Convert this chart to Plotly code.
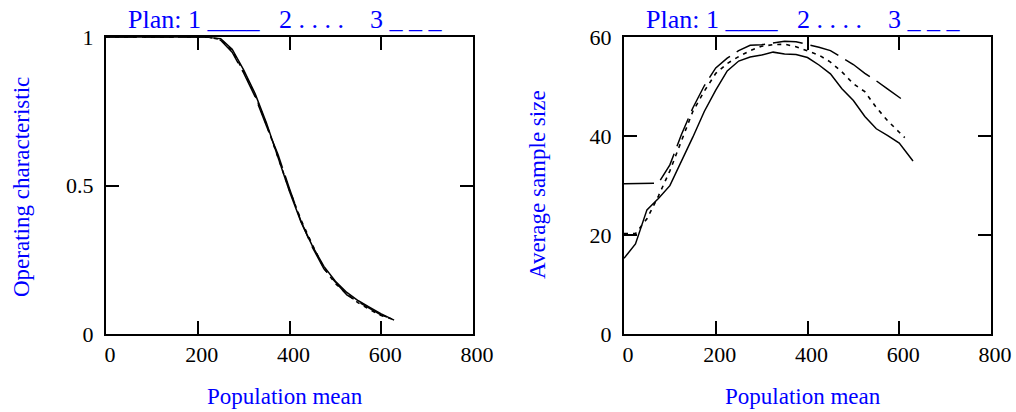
import plotly.graph_objects as go

# ---------------- data ----------------
oc_means = [0, 50, 100, 150, 200, 225, 250, 275, 300, 325, 350, 375, 400, 425, 450,
            475, 500, 525, 550, 575, 600, 628]
oc_plan1 = [1, 1, 1, 1, 1, 1.0, 0.995, 0.96, 0.89, 0.81, 0.71, 0.598, 0.48, 0.378, 0.296,
            0.228, 0.178, 0.14, 0.112, 0.09, 0.068, 0.047]
oc_plan2 = [1, 1, 1, 1, 1, 1.0, 0.993, 0.955, 0.885, 0.805, 0.705, 0.595, 0.485, 0.385, 0.30,
            0.222, 0.17, 0.135, 0.105, 0.082, 0.062, 0.048]
oc_plan3 = [1, 1, 1, 1, 1, 1.0, 0.99, 0.95, 0.88, 0.80, 0.70, 0.605, 0.49, 0.38, 0.292,
            0.22, 0.175, 0.132, 0.108, 0.085, 0.064, 0.049]

asn_means1 = [0, 25, 50, 75, 100, 125, 150, 175, 200, 225, 250, 275, 300, 325, 350, 375,
              400, 425, 450, 475, 500, 525, 550, 575, 600, 630]
asn_plan1 = [15.3, 18.2, 25.1, 27.4, 30.0, 34.8, 39.8, 45.0, 49.3, 53.2, 55.2, 56.0, 56.4,
             57.0, 56.6, 56.5, 55.9, 54.4, 52.6, 49.6, 47.2, 44.0, 41.5, 40.1, 38.6, 35.0]

asn_means2 = [0, 25, 50, 75, 100, 125, 150, 175, 200, 225, 250, 275, 300, 325, 350, 375,
              400, 425, 450, 475, 500, 525, 550, 575, 600, 612]
asn_plan2 = [20.3, 20.3, 23.3, 27.9, 33.0, 38.9, 45.0, 49.1, 52.7, 54.7, 56.1, 57.3, 58.2,
             58.5, 58.6, 58.1, 57.2, 56.4, 55.0, 53.0, 50.6, 49.0, 45.8, 43.1, 40.8, 39.7]

asn_means3 = [0, 25, 50, 75, 100, 125, 150, 175, 200, 225, 250, 275, 300, 325, 350, 375,
              400, 425, 450, 475, 500, 525, 550, 575, 600, 610]
asn_plan3 = [30.4, 30.4, 30.4, 30.5, 34.2, 40.3, 45.7, 50.2, 53.8, 55.8, 57.3, 58.4, 58.5,
             58.9, 59.2, 59.1, 58.6, 58.0, 57.3, 55.9, 54.5, 52.7, 51.2, 49.5, 47.8, 47.2]

x_ticks = [0, 200, 400, 600, 800]
oc_ticks = [0, 0.5, 1]
oc_ticktext = ["0", "0.5", "1"]
asn_ticks = [0, 20, 40, 60]

NB = "\u00a0"
legend_text = ("Plan: 1" + NB + "____" + NB * 3 + "2" + (NB + ".") * 4 + NB * 4
               + "3" + (NB + "_") * 3)
oc_title = "Operating characteristic"
asn_title = "Average sample size"
x_title = "Population mean"

# ---------------- figure ----------------
W, H = 1016, 412
FONT = "Liberation Serif, Times New Roman, serif"
BLUE = "#0000ff"

def px_x(p):
    return p / W

def px_y(p):
    return 1 - p / H

styles = [dict(color="black", width=1.5),
          dict(color="black", width=1.6, dash="4px,5px"),
          dict(color="black", width=1.5, dash="30px,8px")]

fig = go.Figure()
for ys, st in zip([oc_plan1, oc_plan2, oc_plan3], styles):
    fig.add_trace(go.Scatter(x=oc_means, y=ys, mode="lines", line=st,
                             xaxis="x", yaxis="y", showlegend=False))
for xs, ys, st in zip([asn_means1, asn_means2, asn_means3],
                      [asn_plan1, asn_plan2, asn_plan3], styles):
    fig.add_trace(go.Scatter(x=xs, y=ys, mode="lines", line=st,
                             xaxis="x2", yaxis="y2", showlegend=False))

axis_common = dict(showline=True, linecolor="black", linewidth=2, mirror="allticks",
                   ticks="inside", ticklen=13, tickwidth=2, tickcolor="black",
                   showgrid=False, zeroline=False, automargin=False,
                   tickfont=dict(family=FONT, size=22, color="black"))

ydom = [px_y(334), px_y(37.3)]
fig.update_layout(
    width=W, height=H, margin=dict(l=0, r=0, t=0, b=0, pad=0, autoexpand=False),
    paper_bgcolor="white", plot_bgcolor="white",
    xaxis=dict(domain=[px_x(106), px_x(473)], range=[0, 800], tickvals=x_ticks,
               anchor="y", ticklabelstandoff=0, ticklabelshift=4, **axis_common),
    yaxis=dict(domain=ydom, range=[0, 1], tickvals=oc_ticks, ticktext=oc_ticktext,
               anchor="x", ticklabelstandoff=6, **axis_common),
    xaxis2=dict(domain=[px_x(624), px_x(991)], range=[0, 800], tickvals=x_ticks,
                anchor="y2", ticklabelstandoff=0, ticklabelshift=4, **axis_common),
    yaxis2=dict(domain=ydom, range=[0, 60], tickvals=asn_ticks,
                anchor="x2", ticklabelstandoff=6, **axis_common),
)

ann = []
for lx in [126, 644]:
    ann.append(dict(text=legend_text, x=px_x(lx), y=px_y(20), xref="paper", yref="paper",
                    xanchor="left", yanchor="middle", showarrow=False,
                    font=dict(family=FONT, size=26, color=BLUE)))
for cx in [285, 803]:
    ann.append(dict(text=x_title, x=px_x(cx), y=px_y(396), xref="paper", yref="paper",
                    xanchor="center", yanchor="middle", showarrow=False,
                    font=dict(family=FONT, size=23, color=BLUE)))
ann.append(dict(text=oc_title, x=px_x(21), y=px_y(187), xref="paper", yref="paper",
                xanchor="center", yanchor="middle", showarrow=False, textangle=-90,
                font=dict(family=FONT, size=23, color=BLUE)))
ann.append(dict(text=asn_title, x=px_x(537), y=px_y(185), xref="paper", yref="paper",
                xanchor="center", yanchor="middle", showarrow=False, textangle=-90,
                font=dict(family=FONT, size=23, color=BLUE)))
fig.update_layout(annotations=ann)

fig.write_html("out.html", config={"displayModeBar": False, "staticPlot": True},
               post_script="document.body.style.margin='0';"
                           "document.body.style.overflow='hidden';")
